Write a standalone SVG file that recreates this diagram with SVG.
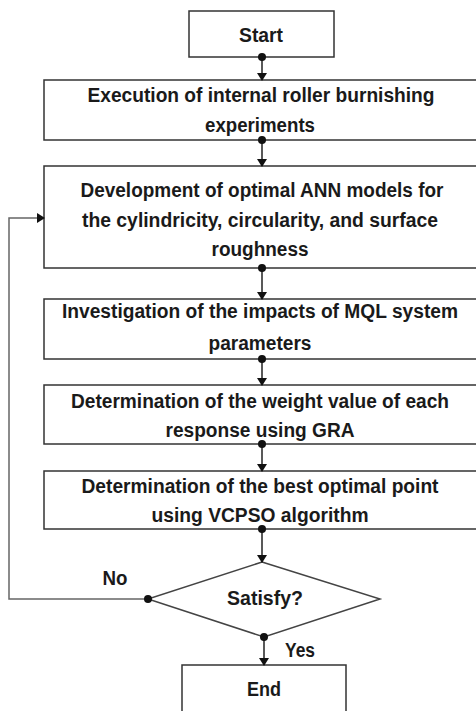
<svg xmlns="http://www.w3.org/2000/svg" width="476" height="711" viewBox="0 0 476 711">
<style>
.box{fill:#fff;stroke:#333;stroke-width:1.5}
.t{font-family:"Liberation Sans",Arial,sans-serif;font-weight:bold;font-size:20px;fill:#1a1a1a;text-anchor:middle}
.ln{fill:none;stroke:#222;stroke-width:1.5}
.lp{fill:none;stroke:#666;stroke-width:1.5}
.dot{fill:#111}
</style>
<defs>
<marker id="ah" markerWidth="8" markerHeight="10" refX="7" refY="5" orient="auto" markerUnits="userSpaceOnUse">
<path d="M0,0 L8,5 L0,10 Z" fill="#111"/>
</marker>
</defs>
<rect width="476" height="711" fill="#fff"/>
<g id="start"><rect class="box" x="189" y="11" width="145" height="46"/><text class="t" x="261" y="42" textLength="44" lengthAdjust="spacingAndGlyphs">Start</text></g>
<g id="exec"><rect class="box" x="44" y="80" width="434" height="60"/><text class="t" x="261" y="102" textLength="347" lengthAdjust="spacingAndGlyphs">Execution of internal roller burnishing</text><text class="t" x="260" y="132" textLength="110" lengthAdjust="spacingAndGlyphs">experiments</text></g>
<g id="ann"><rect class="box" x="44" y="166" width="434" height="102"/><text class="t" x="262" y="197" textLength="363" lengthAdjust="spacingAndGlyphs">Development of optimal ANN models for</text><text class="t" x="260" y="227" textLength="356" lengthAdjust="spacingAndGlyphs">the cylindricity, circularity, and surface</text><text class="t" x="260" y="256" textLength="97" lengthAdjust="spacingAndGlyphs">roughness</text></g>
<g id="mql"><rect class="box" x="44" y="299" width="434" height="60"/><text class="t" x="260" y="318" textLength="396" lengthAdjust="spacingAndGlyphs">Investigation of the impacts of MQL system</text><text class="t" x="260" y="350" textLength="103" lengthAdjust="spacingAndGlyphs">parameters</text></g>
<g id="gra"><rect class="box" x="44" y="385" width="434" height="59"/><text class="t" x="260" y="408" textLength="378" lengthAdjust="spacingAndGlyphs">Determination of the weight value of each</text><text class="t" x="260" y="437" textLength="189" lengthAdjust="spacingAndGlyphs">response using GRA</text></g>
<g id="vcpso"><rect class="box" x="44" y="471" width="434" height="58"/><text class="t" x="260" y="493" textLength="357" lengthAdjust="spacingAndGlyphs">Determination of the best optimal point</text><text class="t" x="260" y="522" textLength="217" lengthAdjust="spacingAndGlyphs">using VCPSO algorithm</text></g>
<g id="satisfy"><polygon points="262,562 380,599 264,637 148,599" fill="#fff" stroke="#444" stroke-width="1.5"/><text class="t" x="265" y="605" textLength="76" lengthAdjust="spacingAndGlyphs">Satisfy?</text></g>
<g id="end"><rect class="box" x="182" y="665" width="164" height="60"/><text class="t" x="264" y="696" textLength="34" lengthAdjust="spacingAndGlyphs">End</text></g>
<g id="connectors">
<line class="ln" x1="262" y1="57" x2="262" y2="80" marker-end="url(#ah)"/>
<line class="ln" x1="262" y1="140" x2="262" y2="166" marker-end="url(#ah)"/>
<line class="ln" x1="262" y1="268" x2="262" y2="299" marker-end="url(#ah)"/>
<line class="ln" x1="262" y1="359" x2="262" y2="385" marker-end="url(#ah)"/>
<line class="ln" x1="262" y1="444" x2="262" y2="471" marker-end="url(#ah)"/>
<line class="ln" x1="262" y1="529" x2="262" y2="562" marker-end="url(#ah)"/>
<line class="ln" x1="264" y1="637" x2="264" y2="665" marker-end="url(#ah)"/>
<polyline class="lp" points="148,599 9,599 9,218 44,218" marker-end="url(#ah)"/>
<circle class="dot" cx="262" cy="57" r="4"/>
<circle class="dot" cx="262" cy="140" r="4"/>
<circle class="dot" cx="262" cy="268" r="4"/>
<circle class="dot" cx="262" cy="359" r="4"/>
<circle class="dot" cx="262" cy="444" r="4"/>
<circle class="dot" cx="262" cy="529" r="4"/>
<circle class="dot" cx="264" cy="637" r="4"/>
<circle class="dot" cx="148" cy="599" r="4"/>
<text class="t" x="115" y="585" textLength="25" lengthAdjust="spacingAndGlyphs">No</text>
<text class="t" x="300" y="657" textLength="30" lengthAdjust="spacingAndGlyphs">Yes</text>
</g>
</svg>
